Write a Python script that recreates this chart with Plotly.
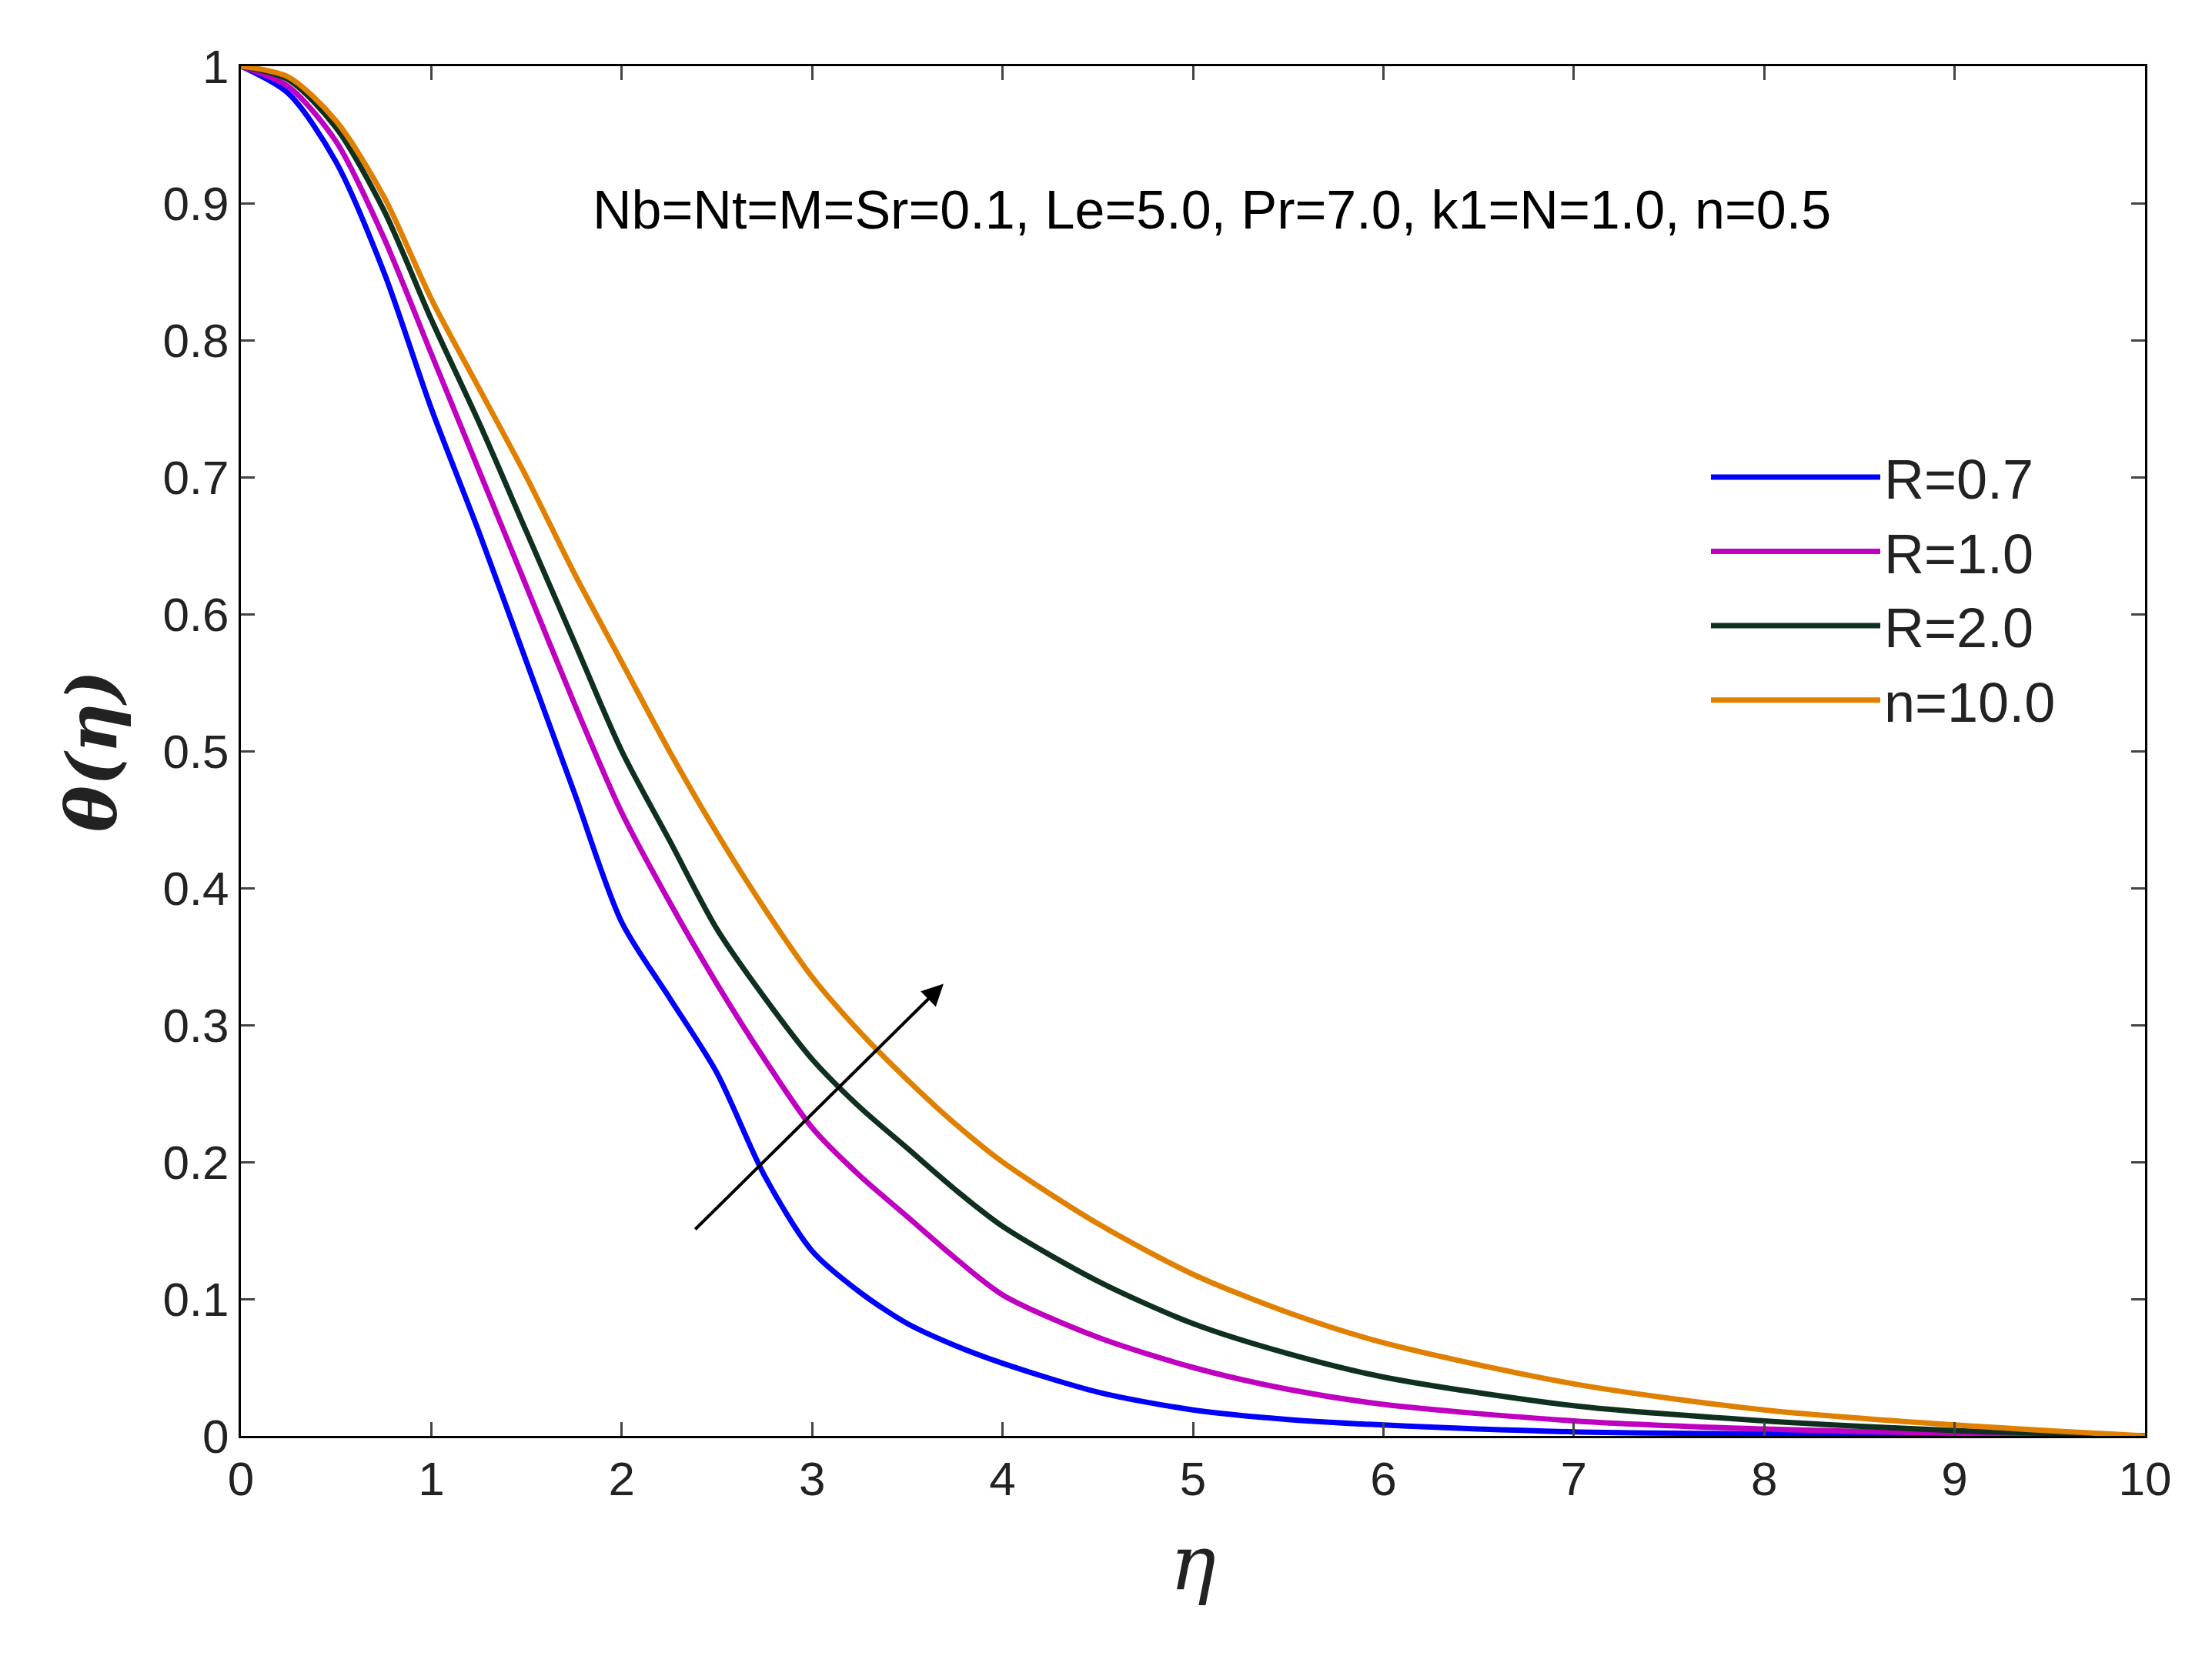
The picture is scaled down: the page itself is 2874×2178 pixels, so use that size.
import plotly.graph_objects as go

eta = [0, 0.25, 0.5, 0.75, 1, 1.25, 1.5, 1.75, 2, 2.25, 2.5, 2.75, 3, 3.25, 3.5, 3.75, 4, 4.5, 5, 5.5, 6, 7, 8, 9, 10]
R07 = [1, 0.98, 0.93, 0.85, 0.75, 0.66, 0.565, 0.47, 0.375, 0.32, 0.265, 0.19, 0.135, 0.105, 0.082, 0.066, 0.053, 0.032, 0.019, 0.012, 0.008, 0.003, 0.0015, 0.0005, 0]
R10 = [1, 0.985, 0.945, 0.875, 0.79, 0.705, 0.62, 0.535, 0.455, 0.39, 0.33, 0.275, 0.225, 0.19, 0.16, 0.13, 0.103, 0.072, 0.05, 0.034, 0.023, 0.011, 0.005, 0.002, 0]
R20 = [1, 0.99, 0.955, 0.895, 0.815, 0.74, 0.66, 0.58, 0.5, 0.435, 0.37, 0.32, 0.275, 0.24, 0.21, 0.18, 0.153, 0.113, 0.082, 0.06, 0.043, 0.022, 0.011, 0.004, 0]
n10 = [1, 0.992, 0.96, 0.905, 0.83, 0.765, 0.7, 0.63, 0.565, 0.5, 0.44, 0.385, 0.335, 0.295, 0.26, 0.228, 0.2, 0.155, 0.118, 0.09, 0.068, 0.038, 0.019, 0.008, 0]
names = ["R=0.7", "R=1.0", "R=2.0", "n=10.0"]
colors = ["#0000ff", "#c000c0", "#0f2f1f", "#e08000"]

fig = go.Figure()
for y, nm, c in zip([R07, R10, R20, n10], names, colors):
    fig.add_trace(go.Scatter(x=eta, y=y, name=nm, mode="lines",
                             line=dict(color=c, width=7, shape="spline", smoothing=0.8)))

fig.add_annotation(x=3.69, y=0.33, ax=2.38, ay=0.15, xref="x", yref="y", axref="x", ayref="y",
                   showarrow=True, arrowhead=2, arrowsize=1.4, arrowwidth=4, arrowcolor="black", text="")
fig.add_annotation(x=5.1, y=0.895, xref="x", yref="y", showarrow=False,
                   text="Nb=Nt=M=Sr=0.1, Le=5.0, Pr=7.0, k1=N=1.0, n=0.5",
                   font=dict(size=70, color="black", family="Liberation Sans"))

ax = dict(showline=True, linecolor="black", linewidth=3, mirror="ticks", ticks="inside", ticklen=18,
          tickwidth=3, showgrid=False, zeroline=False, tickfont=dict(size=62, color="#222", family="Liberation Sans"))
fig.update_xaxes(**ax, range=[0, 10], dtick=1,
                 title=dict(text="<i>η</i>", font=dict(size=100, family="DejaVu Serif", color="#222"), standoff=40))
fig.update_yaxes(**ax, range=[0, 1], dtick=0.1, tickformat="~g",
                 title=dict(text="<b><i>θ(η)</i></b>", font=dict(size=90, family="DejaVu Serif", color="#222"), standoff=30))
fig.update_layout(width=2874, height=2178, plot_bgcolor="white", paper_bgcolor="white",
                  margin=dict(l=305, r=95, t=78, b=320),
                  legend=dict(x=0.77, y=0.73, xanchor="left", yanchor="top", bgcolor="rgba(0,0,0,0)",
                              font=dict(size=72, color="#222", family="Liberation Sans"),
                              itemwidth=220, tracegroupgap=60))
fig.write_html("out.html")
